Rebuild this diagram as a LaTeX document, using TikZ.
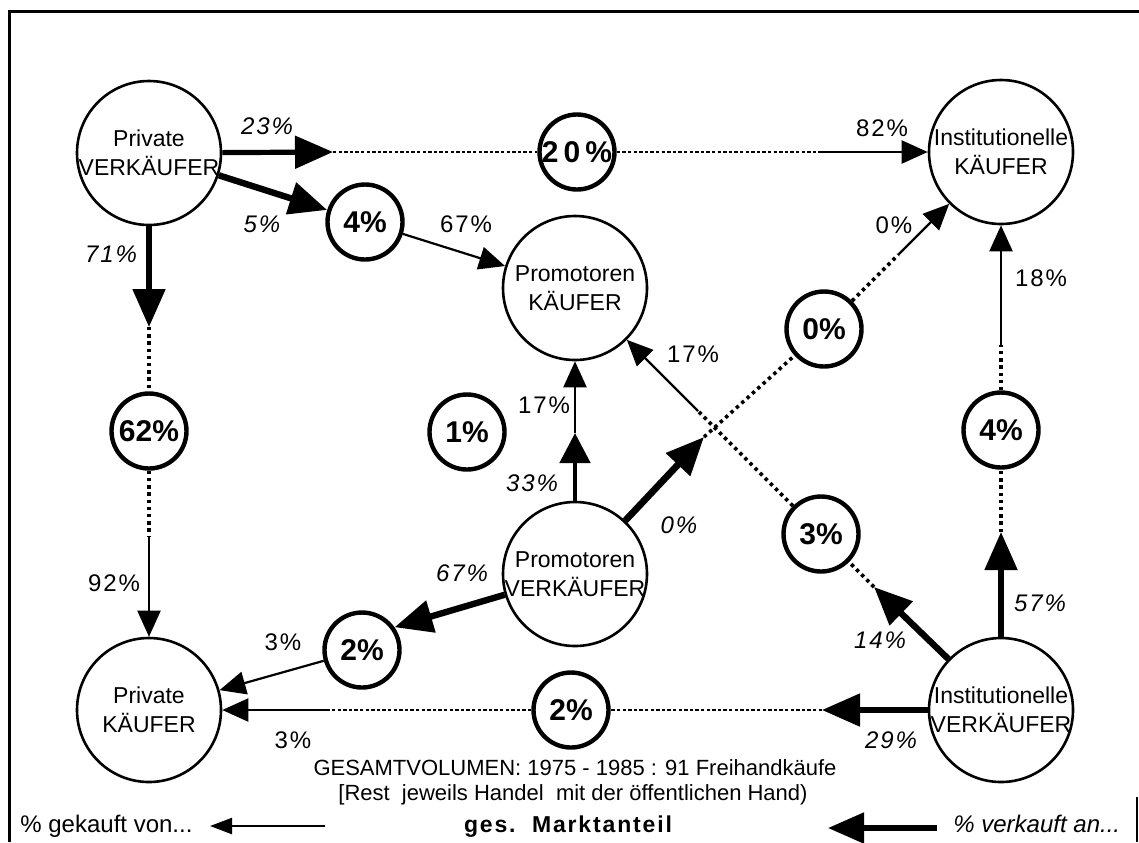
\documentclass[tikz,border=0pt]{standalone}
\usepackage{fontspec}
\setmainfont{Liberation Sans}
\newfontfamily\spaced[LetterSpace=8]{Liberation Sans}
\usetikzlibrary{arrows.meta,calc}
\begin{document}
\begin{tikzpicture}[x=0.5pt,y=-0.5pt,
  big/.style={circle,draw,line width=1.3pt,minimum size=72pt,inner sep=0pt},
  lbl/.style={align=center,font=\fontsize{11.5}{14.5}\selectfont,inner sep=0pt},
  share/.style={circle,draw,line width=2.2pt,minimum size=37.5pt,inner sep=0pt,font=\fontsize{15}{16}\selectfont\bfseries},
  thk/.style={line width=2.6pt,-{Triangle[length=19pt,width=16pt]}},
  thn/.style={line width=1.1pt,-{Triangle[length=13pt,width=11.5pt]}},
  dotl/.style={line width=1.8pt,dash pattern=on 1.7pt off 1.9pt},
  dashl/.style={line width=1.1pt,dash pattern=on 1.7pt off 1.1pt},
  sp/.style={font=\spaced\fontsize{12}{14}\selectfont\itshape,inner sep=0pt},
  bp/.style={font=\spaced\fontsize{12}{14}\selectfont,inner sep=0pt},
  txt/.style={font=\fontsize{11}{13}\selectfont,inner sep=0pt,anchor=base}]
\useasboundingbox (0,0) rectangle (1139,842);
% frame
\draw[line width=1.5pt] (9,842) -- (9,11) -- (1139,11);
\draw[line width=0.8pt] (1137,797) -- (1137,842);
% main nodes
\node[big,label={[lbl]center:Private\\VERKÄUFER}] (PV) at (149,153) {};
\node[big,label={[lbl]center:Institutionelle\\KÄUFER}] (IK) at (1001,152) {};
\node[big,label={[lbl]center:Promotoren\\KÄUFER}] (PK) at (575,288) {};
\node[big,label={[lbl]center:Promotoren\\VERKÄUFER}] (PRV) at (575,574) {};
\node[big,label={[lbl]center:Private\\KÄUFER}] (PRK) at (149,710) {};
\node[big,label={[lbl]center:Institutionelle\\VERKÄUFER}] (IV) at (1001,710) {};
% share circles
\node[share] (S20) at (577,152) {\makebox[0pt]{2\,0\,\%}};
\node[share] (S4a) at (365,222) {\makebox[0pt]{4\%}};
\node[share] (S62) at (149,431) {\makebox[0pt]{62\%}};
\node[share] (S1) at (467,432) {\makebox[0pt]{1\%}};
\node[share] (S0) at (824,329) {\makebox[0pt]{0\%}};
\node[share] (S3) at (821,534) {\makebox[0pt]{3\%}};
\node[share] (S4b) at (1001,430) {\makebox[0pt]{4\%}};
\node[share] (S2a) at (362,650) {\makebox[0pt]{2\%}};
\node[share] (S2b) at (571,710) {\makebox[0pt]{2\%}};
% A: Private Verkaeufer -> Institutionelle Kaeufer
\coordinate (a1) at (333,152);
\coordinate (a2) at (819,152);
\draw[thk] (PV) -- (a1);
\draw[dashl] (a1) -- (S20);
\draw[dashl] (S20) -- (a2);
\draw[thn] (a2) -- (IK);
% B: Private Verkaeufer -> Promotoren Kaeufer
\draw[thk,line width=3.2pt] (PV) -- (S4a);
\draw[thn] (S4a) -- (PK);
% C: Private Verkaeufer -> Private Kaeufer
\coordinate (c1) at (149,327);
\coordinate (c2) at (149,537);
\draw[thk] (PV) -- (c1);
\draw[dotl] (c1) -- (S62);
\draw[dotl] (S62) -- (c2);
\draw[thn] (c2) -- (PRK);
% D: Promotoren Verkaeufer -> Promotoren Kaeufer
\coordinate (d1) at (575,433);
\draw[line width=2.4pt,-{Triangle[length=15pt,width=15pt]}] (PRV) -- (d1);
\draw[thn] (d1) -- (PK);
% E: Promotoren Verkaeufer -> Institutionelle Kaeufer
\coordinate (e1) at (704,437);
\draw[thk,line width=3.4pt] (PRV) -- (e1);
\draw[dotl] (e1) -- (S0);
\coordinate (e2) at ($(S0)!0.42!(IK)$);
\draw[dotl] (S0) -- (e2);
\draw[thn] (e2) -- (IK);
% F: Institutionelle Verkaeufer -> Promotoren Kaeufer
\coordinate (f1) at (874,587);
\draw[thk,line width=3.2pt] (IV) -- (f1);
\draw[dotl] (f1) -- (S3);
\coordinate (f2) at ($(S3)!0.5!(PK)$);
\draw[dotl] (S3) -- (f2);
\draw[thn] (f2) -- (PK);
% G: Institutionelle Verkaeufer -> Institutionelle Kaeufer
\coordinate (g1) at (1001,532);
\coordinate (g2) at (1001,345);
\draw[thk] (IV) -- (g1);
\draw[dotl] (g1) -- (S4b);
\draw[dotl] (S4b) -- (g2);
\draw[thn] (g2) -- (IK);
% H: Institutionelle Verkaeufer -> Private Kaeufer
\coordinate (h1) at (822,710);
\coordinate (h2) at (329,710);
\draw[thk] (IV) -- (h1);
\draw[dashl] (h1) -- (S2b);
\draw[dashl] (S2b) -- (h2);
\draw[thn] (h2) -- (PRK);
% I: Promotoren Verkaeufer -> Private Kaeufer
\draw[thk,line width=3.2pt] (PRV) -- (S2a.35);
\draw[thn] (S2a) -- (PRK);
% percentage labels
\node[sp] (l23) at (267,126) {23\%};
\node[bp] (l82) at (882,128) {82\%};
\node[sp] (l5) at (262,224) {5\%};
\node[bp] (l67a) at (466,224) {67\%};
\node[sp] (l71) at (111,254) {71\%};
\node[bp] (l92) at (114,583) {92\%};
\node[bp] (l0b) at (894,225) {0\%};
\node[bp] (l18) at (1041,278) {18\%};
\node[bp] (l17a) at (693,354) {17\%};
\node[bp] (l17b) at (544,405) {17\%};
\node[sp] (l33) at (532,483) {33\%};
\node[sp] (l0a) at (679,525) {0\%};
\node[sp] (l67b) at (462,573) {67\%};
\node[sp] (l57) at (1040,603) {57\%};
\node[sp] (l14) at (880,640) {14\%};
\node[bp] (l3a) at (283,642) {3\%};
\node[bp] (l3b) at (293,740) {3\%};
\node[sp] (l29) at (891,740) {29\%};
% bottom texts
\node[txt] (t1) at (575,775) {GESAMTVOLUMEN: 1975 - 1985 : 91 Freihandkäufe};
\node[txt] (t2) at (573,800) {[Rest\ \ jeweils Handel\ \ mit der öffentlichen Hand)};
\node[txt,font=\spaced\fontsize{11.5}{13}\selectfont\bfseries] (t3) at (568,832) {ges.\ \ Marktanteil};
\node[txt,anchor=base west,font=\fontsize{12}{14}\selectfont] (t4) at (20,832) {\% gekauft von...};
\node[txt,anchor=base west,font=\fontsize{12}{14}\selectfont\itshape] (t5) at (953,832) {\% verkauft an...};
\coordinate (k1) at (325,826);
\coordinate (k2) at (210,826);
\draw[line width=1.1pt,-{Triangle[length=11pt,width=8pt]}] (k1) -- (k2);
\coordinate (v1) at (937,828);
\coordinate (v2) at (828,828);
\draw[line width=2.6pt,-{Triangle[length=18pt,width=15pt]}] (v1) -- (v2);
\end{tikzpicture}
\end{document}
